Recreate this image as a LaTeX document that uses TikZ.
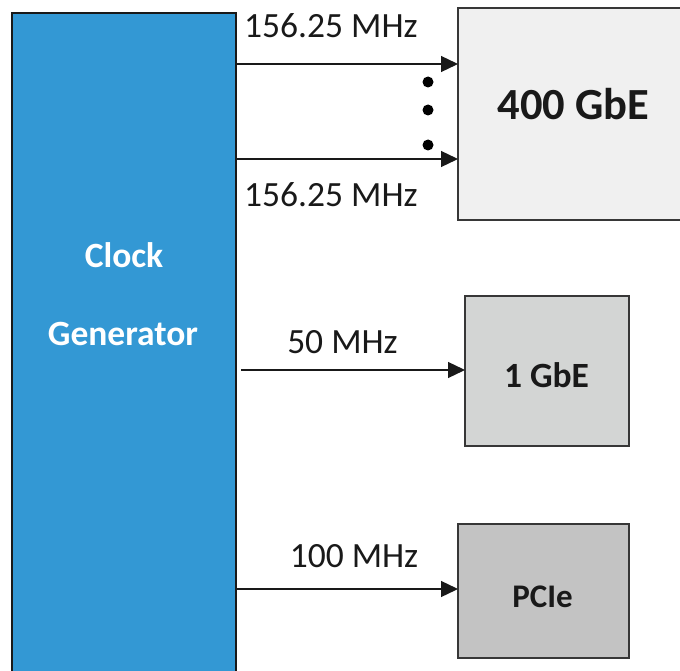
\documentclass[tikz,border=0pt]{standalone}
\usepackage{fontspec}
\setmainfont{Carlito}
\usetikzlibrary{arrows.meta}
\definecolor{clkblue}{RGB}{51,152,212}
\definecolor{boxline}{RGB}{55,55,55}
\definecolor{fillA}{RGB}{240,240,240}
\definecolor{fillB}{RGB}{211,213,212}
\definecolor{fillC}{RGB}{195,195,195}
\definecolor{ink}{RGB}{25,25,25}
\begin{document}
\begin{tikzpicture}[x=1pt,y=-1pt,
  blk/.style={draw=boxline, line width=1.3pt, inner sep=0pt, outer sep=0pt, anchor=north west},
  lbl/.style={inner sep=0pt, font=\fontsize{35.5}{40}\selectfont, text=ink},
  ttl/.style={inner sep=0pt, anchor=base, text=ink},
  arr/.style={line width=1.3pt, draw=ink, -{Triangle[length=17pt,width=16pt]}},
  dotmark/.style={circle, fill=black, inner sep=0pt, minimum size=11pt}]
\useasboundingbox (0,0) rectangle (680,671);
\clip (0,0) rectangle (680,671);
% blocks
\node[blk, draw=black!90, line width=1.8pt, fill=clkblue, minimum width=224pt, minimum height=700pt] (clk) at (12,13) {};
\node[blk, fill=fillA, minimum width=232pt, minimum height=212pt] (g400) at (458,8) {};
\node[blk, fill=fillB, minimum width=164pt, minimum height=150pt] (g1) at (465,296) {};
\node[blk, fill=fillC, minimum width=171pt, minimum height=134pt] (pcie) at (458,524) {};
% block texts
\node[ttl, text=white, font=\bfseries\fontsize{35.5}{40}\selectfont] (clkt1) at (124,267) {Clock};
\node[ttl, text=white, font=\bfseries\fontsize{35.5}{40}\selectfont] (clkt2) at (123,345) {Generator};
\node[ttl, font=\bfseries\fontsize{44.5}{50}\selectfont] (g400t) at (573.5,120) {400 GbE};
\node[ttl, font=\bfseries\fontsize{35.5}{40}\selectfont] (g1t) at (546.5,387) {1 GbE};
\node[ttl, font=\bfseries\fontsize{33}{40}\selectfont] (pciet) at (542.5,607) {PCIe};
% rows of connectors
\coordinate (r1) at (0,64);
\coordinate (r2) at (0,159);
\coordinate (r3) at (0,370);
\coordinate (r4) at (0,589);
\draw[arr] (clk.east |- r1) -- (g400.west |- r1);
\draw[arr] (clk.east |- r2) -- (g400.west |- r2);
\draw[arr] ([xshift=5pt]clk.east |- r3) -- (g1.west |- r3);
\draw[arr] (clk.east |- r4) -- (pcie.west |- r4);
% dots
\node[dotmark] (d1) at (428,82) {};
\node[dotmark] (d2) at (428,110) {};
\node[dotmark] (d3) at (428,145) {};
% labels
\node[lbl, anchor=base west] (f1) at (244,38) {156.25 MHz};
\node[lbl, anchor=base west] (f2) at (244,207) {156.25 MHz};
\node[lbl, anchor=base] (f3) at (342.5,353) {50 MHz};
\node[lbl, anchor=base] (f4) at (354,567) {100 MHz};
\end{tikzpicture}
\end{document}
